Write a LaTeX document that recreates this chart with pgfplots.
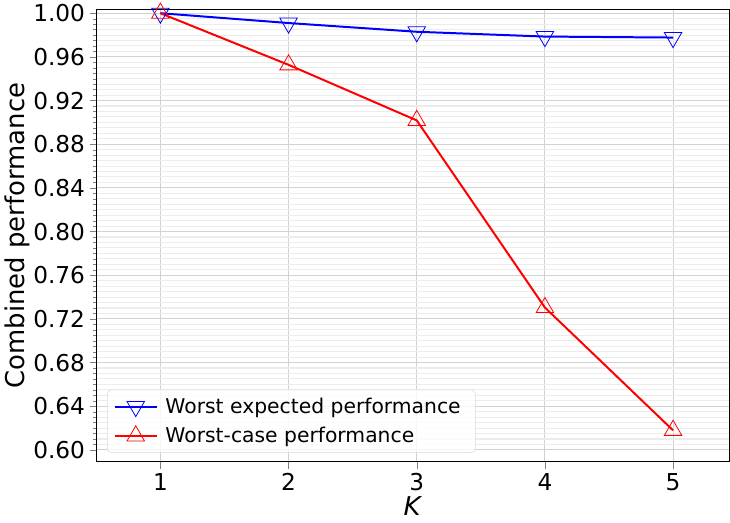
\documentclass[border=0pt]{standalone}
\usepackage{pgfplots}
\pgfplotsset{compat=1.18}
\usepackage{fontspec}
\setmainfont{DejaVu Sans}
\begin{document}
\begin{tikzpicture}
\begin{axis}[
  scale only axis,
  width=477pt, height=341pt,
  xmin=0.5, xmax=5.44,
  ymin=0.589, ymax=1.0036,
  xtick={1,2,3,4,5},
  ytick={0.60,0.64,0.68,0.72,0.76,0.80,0.84,0.88,0.92,0.96,1.00},
  minor y tick num=7,
  yticklabel style={/pgf/number format/.cd, fixed, fixed zerofill, precision=2},
  /pgf/number format/assume math mode=true,
  tick label style={font=\fontsize{17.5}{20}\selectfont},
  tick align=outside,
  xtick pos=bottom, ytick pos=left,
  major tick length=5pt, minor tick length=2.5pt,
  grid=both,
  xminorgrids=false,
  major grid style={gray!35, line width=0.8pt},
  minor grid style={gray!15, line width=0.8pt},
  ylabel={Combined performance},
  xlabel={\textit{K}},
  label style={font=\fontsize{19.5}{22}\selectfont},
  xlabel style={yshift=4pt, inner ysep=5pt},
  ylabel style={yshift=-4pt},
  legend style={at={(0.017,0.02)}, anchor=south west, font=\fontsize{15.3}{18}\selectfont,
    draw=gray!30, rounded corners=3pt, fill=white, fill opacity=0.8, text opacity=1,
    row sep=5pt, inner xsep=5pt, inner ysep=4pt,
    nodes={inner xsep=6pt}},
  legend cell align=left,
  legend image code/.code={
    \draw[#1] (0cm,0cm) -- (1.1cm,0cm);
    \draw[#1,mark repeat=1] plot coordinates {(0.55cm,0cm)};
  },
  axis line style={line width=0.8pt},
]
\addplot[blue, line width=1.5pt, mark=triangle, mark options={rotate=180, solid, fill=none, scale=3.8, line width=0.6pt}]
  coordinates {(1,1.000) (2,0.991) (3,0.983) (4,0.9786) (5,0.9777)};
\addlegendentry{Worst expected performance}
\addplot[red, line width=1.5pt, mark=triangle, mark options={solid, fill=none, scale=3.8, line width=0.6pt}]
  coordinates {(1,1.000) (2,0.9527) (3,0.9018) (4,0.7304) (5,0.6179)};
\addlegendentry{Worst-case performance}
\end{axis}
\end{tikzpicture}
\end{document}
